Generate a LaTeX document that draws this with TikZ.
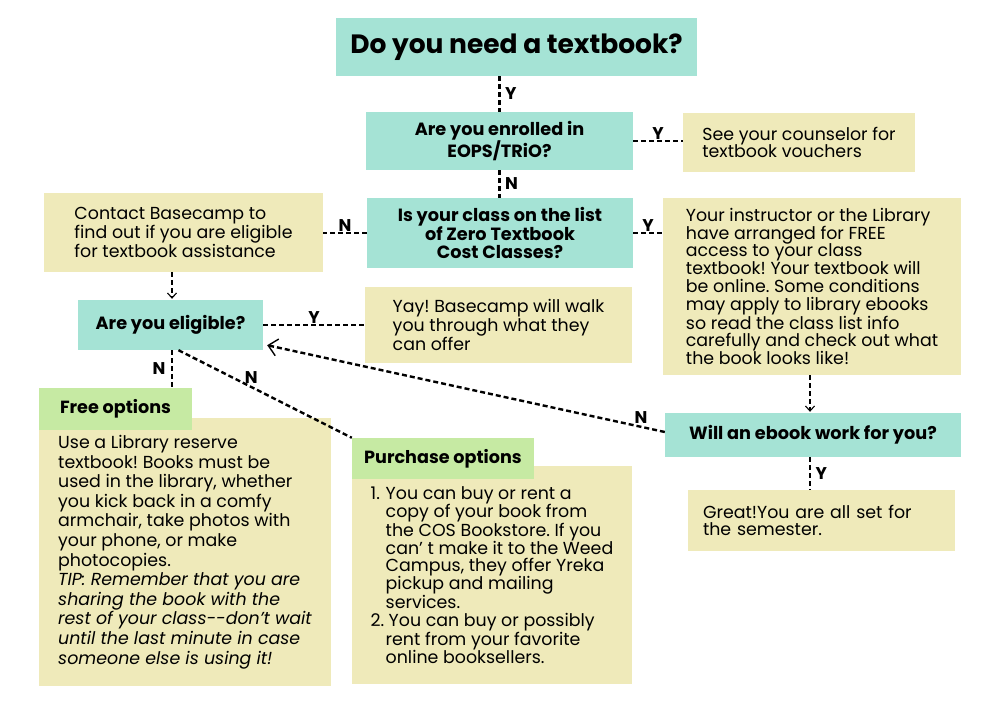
\documentclass[tikz,border=0pt]{standalone}
\usepackage{fontspec}
\setmainfont{Poppins}
\usepackage{tikz}
\usetikzlibrary{arrows.meta, positioning, calc}
\frenchspacing
\definecolor{mint}{RGB}{165,227,213}
\definecolor{sand}{RGB}{239,234,186}
\definecolor{leaf}{RGB}{198,234,163}
\tikzset{
  qbox/.style  ={rectangle, fill=mint, align=center, inner sep=0pt,
                 font=\bfseries\fontsize{17.7}{18}\selectfont},
  ibox/.style  ={rectangle, fill=sand, align=left, inner sep=0pt,
                 font=\fontsize{17.4}{17.8}\selectfont},
  tabbox/.style={rectangle, fill=leaf, inner sep=0pt,
                 font=\bfseries\fontsize{17.6}{18}\selectfont},
  ln/.style    ={draw=black, line width=2.4pt, dash pattern=on 5pt off 3pt},
  ar/.style    ={ln, -{Straight Barb[length=5pt, width=9pt, line width=1.1pt]}},
  arbig/.style ={ln, -{Straight Barb[length=9pt, width=17pt, line width=1.4pt]}},
  lbl/.style   ={font=\bfseries\fontsize{17}{17}\selectfont, inner sep=1.5pt},
}

\begin{document}
\begin{tikzpicture}[x=1pt, y=-1pt]
\useasboundingbox (0,0) rectangle (1000,707);
% questions
\node[qbox, minimum width=361pt, minimum height=58pt,
      font=\bfseries\fontsize{26.5}{27}\selectfont] (need) at (516.5,47) {Do you need a textbook?};
\node[qbox, minimum width=267pt, minimum height=58pt] (eops) at (499.5,141) {Are you enrolled in\\EOPS/TRiO?};
\node[qbox, minimum width=266pt, minimum height=70pt] (zero) at (500,233) {Is your class on the list\\of Zero Textbook\\Cost Classes?};
\node[qbox, minimum width=185pt, minimum height=50pt] (elig) at (170.5,325) {Are you eligible?};
\node[qbox, minimum width=296pt, minimum height=44pt] (ebook) at (813,435) {Will an ebook work for you?};
% answers
\node[ibox, minimum width=232pt, minimum height=59pt] (couns) at (799,142.5) {See your counselor for\\textbook vouchers};
\node[ibox, minimum width=279pt, minimum height=79pt] (contact) at (183.5,232.5) {Contact Basecamp to\\find out if you are eligible\\for textbook assistance};
\node[ibox, minimum width=298pt, minimum height=177pt] (instr) at (812,286.5) {Your instructor or the Library\\have arranged for FREE\\access to your class\\textbook! Your textbook will\\be online. Some conditions\\may apply to library ebooks\\so read the class list info\\carefully and check out what\\the book looks like!};
\node[ibox, minimum width=267pt, minimum height=76pt,
      font=\fontsize{17.4}{19}\selectfont] (yay) at (498.5,325) {Yay! Basecamp will walk\\you through what they\\can offer};
\node[ibox, minimum width=267pt, minimum height=61pt, text width=237pt] (great) at (821.5,520.5) {Great!You are all set for\\the semester.};
% options
\node[ibox, minimum width=292pt, minimum height=268pt,
      font=\fontsize{17.4}{19.6}\selectfont] (free) at (185,552) {Use a Library reserve\\textbook! Books must be\\used in the library, whether\\you kick back in a comfy\\armchair, take photos with\\your phone, or make\\photocopies.\\\itshape TIP: Remember that you are\\\itshape sharing the book with the\\\itshape rest of your class-{}-don't wait\\\itshape until the last minute in case\\\itshape someone else is using it!};
\node[tabbox, minimum width=153pt, minimum height=42pt] (ftab) at (115.5,409) {Free options};
\node[ibox, minimum width=280pt, minimum height=218pt] (buy) at (492,575) {\makebox[15pt][l]{1.}You can buy or rent a\\\hspace*{15pt}copy of your book from\\\hspace*{15pt}the COS Bookstore. If you\\\hspace*{15pt}can' t make it to the Weed\\\hspace*{15pt}Campus, they offer Yreka\\\hspace*{15pt}pickup and mailing\\\hspace*{15pt}services.\\\makebox[15pt][l]{2.}\hspace{3pt}You can buy or possibly\\\hspace*{15pt}rent from your favorite\\\hspace*{15pt}online booksellers.};
\node[tabbox, minimum width=182pt, minimum height=41pt] (btab) at (443,458.5) {Purchase options};
% connectors
\draw[ln] (eops.north |- need.south) -- node[lbl, right=3pt] {Y} (eops.north);
\draw[ln] (eops.east) -- node[lbl, above=-1pt] {Y} (eops.east -| couns.west);
\draw[ln] (eops.south) -- node[lbl, right=3pt] {N} (eops.south |- zero.north);
\draw[ln] (zero.west) -- node[lbl, above=-1pt] {N} (zero.west -| contact.east);
\draw[ln] (zero.east) -- node[lbl, above=-1pt] {Y} (zero.east -| instr.west);
\draw[ar] ([xshift=1.5pt]elig.north |- contact.south) -- ([xshift=1.5pt, yshift=1pt]elig.north);
\draw[ln] (elig.east) -- node[lbl, above=-1pt] {Y} (elig.east -| yay.west);
\draw[ln] ([xshift=1.5pt]elig.south) -- node[lbl, left=4pt] {N} ([xshift=1.5pt]elig.south |- ftab.north);
\draw[ln] ([xshift=8pt]elig.south) -- node[lbl, pos=0.42, above=1pt] {N} (btab.north west);
\draw[ar] ([xshift=-2pt]instr.south) -- ([xshift=-2pt, yshift=1pt]instr.south |- ebook.north);
\draw[arbig] ([yshift=3pt]ebook.west) -- node[lbl, pos=0.06, above=1pt] {N} ([xshift=4pt, yshift=5pt]elig.south east);
\draw[ln] ([xshift=-3pt]ebook.south) -- node[lbl, right=3pt] {Y} ([xshift=-3pt]ebook.south |- great.north);
\end{tikzpicture}
\end{document}
